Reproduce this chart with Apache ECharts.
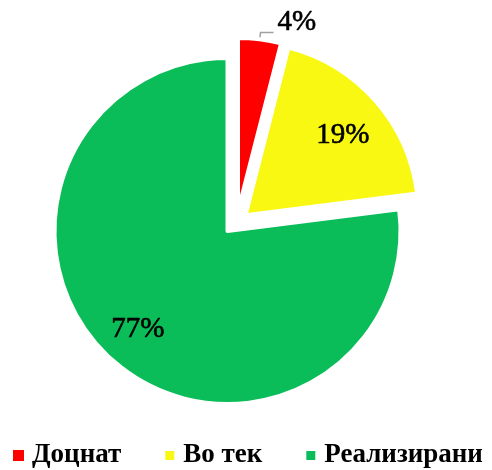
<!DOCTYPE html>
<html>
<head>
<meta charset="utf-8">
<script src="https://cdn.jsdelivr.net/npm/echarts@6/dist/echarts.min.js"></script>
<style>
html,body{margin:0;padding:0;background:#fff;}
#chart{width:492px;height:470px;}
</style>
</head>
<body>
<div id="chart"></div>
<script>
const categories = ['Доцнат', 'Во тек', 'Реализирани'];
const values = [4, 19, 77];
const colors = ['#FF0000', '#F8F812', '#0ABD59'];

const FONT = '"Liberation Serif", "Times New Roman", serif';
const TRANSPARENT = 'rgba(0,0,0,0)';
const chart = echarts.init(document.getElementById('chart'), null, {renderer: 'canvas'});

const labelFont = {
  fontFamily: FONT, fontSize: 29, fontWeight: 'normal', color: '#000',
  textBorderColor: '#000', textBorderWidth: 0.6
};
const insideOffsets = [[0, 0], [-2, 8], [-2, -1]];

// Main pie: yellow (exploded) + green; red slot kept empty (drawn by its own series)
const mainData = categories.map((n, i) => ({
  name: n,
  value: values[i],
  selected: i === 1,
  itemStyle: i === 0 ? {color: TRANSPARENT, borderWidth: 0} : {color: colors[i]}
}));
// Red slice, exploded further out on its own pie
const redData = categories.map((n, i) => ({
  name: n,
  value: values[i],
  itemStyle: i === 0 ? {color: colors[i]} : {color: TRANSPARENT, borderWidth: 0},
  label: {show: i === 0},
  labelLine: {show: i === 0}
}));
// Inside labels
const labelData = categories.map((n, i) => ({
  name: n,
  value: values[i],
  selected: i === 1,
  label: {show: i !== 0, offset: insideOffsets[i]},
  select: {label: {show: i !== 0, offset: insideOffsets[i]}}
}));

chart.setOption({
  animation: false,
  backgroundColor: '#fff',
  legend: {
    data: categories.map((n, i) => ({name: n, itemStyle: {color: colors[i]}})),
    left: 13,
    top: 442,
    padding: 0,
    icon: 'rect',
    itemWidth: 11,
    itemHeight: 11,
    itemGap: 42,
    textStyle: {fontFamily: FONT, fontSize: 27, fontWeight: 'bold', color: '#000', padding: [0, 0, 0, 3]}
  },
  series: [
    {
      type: 'pie',
      center: [227.5, 231],
      radius: [0, 173],
      startAngle: 90,
      clockwise: true,
      selectedMode: 'multiple',
      selectedOffset: 24,
      avoidLabelOverlap: false,
      itemStyle: {borderColor: '#fff', borderWidth: 4},
      label: {show: false},
      labelLine: {show: false},
      emphasis: {disabled: true},
      data: mainData
    },
    {
      type: 'pie',
      center: [238, 211],
      radius: [0, 173],
      startAngle: 90,
      clockwise: true,
      avoidLabelOverlap: false,
      itemStyle: {borderColor: '#fff', borderWidth: 4},
      label: Object.assign({position: 'outside', formatter: '{c}%', distanceToLabelLine: 4, offset: [0, -10]}, labelFont),
      labelLine: {length: 7, length2: 13, lineStyle: {color: '#A0A0A0', width: 1.5}},
      emphasis: {disabled: true},
      data: redData
    },
    {
      type: 'pie',
      center: [227.5, 231],
      radius: [86, 173],
      startAngle: 90,
      clockwise: true,
      selectedMode: 'multiple',
      selectedOffset: 24,
      silent: true,
      itemStyle: {color: TRANSPARENT, borderWidth: 0},
      label: Object.assign({position: 'inside', formatter: '{c}%'}, labelFont),
      labelLine: {show: false},
      emphasis: {disabled: true},
      data: labelData
    }
  ]
});
</script>
</body>
</html>
